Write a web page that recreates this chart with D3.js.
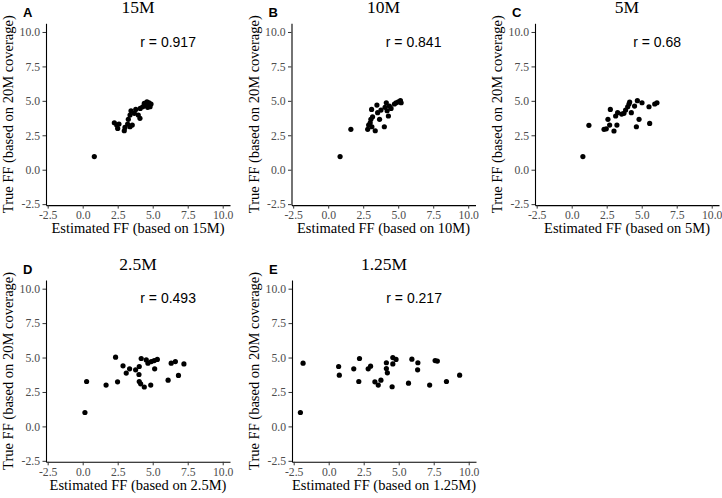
<!DOCTYPE html>
<html>
<head>
<meta charset="utf-8">
<script src="https://cdn.jsdelivr.net/npm/d3@7"></script>
<style>
  html, body { margin: 0; padding: 0; background: #fff; }
  svg { display: block; }
</style>
</head>
<body>
<svg id="chart" width="722" height="498"></svg>
<script>
// ---- Data ----
const panelLetters = ["A", "B", "C", "D", "E"];
const panelTitles = ["15M", "10M", "5M", "2.5M", "1.25M"];
const rValues = ["0.917", "0.841", "0.68", "0.493", "0.217"];
const tickValues = [-2.5, 0, 2.5, 5, 7.5, 10];
const tickLabels = ["-2.5", "0.0", "2.5", "5.0", "7.5", "10.0"];

const est15M = [0.83,2.26,2.43,2.50,2.59,2.97,3.02,3.21,3.38,3.54,3.26,3.38,3.45,3.69,3.79,3.97,4.09,4.11,4.29,4.40,4.50,4.59,4.74,4.88,4.64,4.81];
const true15M = [0.95,3.41,3.24,3.00,3.31,2.83,3.07,3.31,3.12,3.24,3.66,3.97,4.28,4.09,4.38,3.97,3.73,4.45,4.57,4.82,4.69,4.93,4.86,4.77,4.53,4.57];

const est10M = [0.85,1.62,2.82,2.89,3.00,3.12,3.05,3.17,3.10,3.36,3.48,3.53,3.67,3.77,4.01,4.06,4.15,4.21,4.30,4.37,4.49,4.73,4.85,5.01,5.16,5.21];
const true10M = [0.95,2.93,2.93,3.24,3.41,3.12,3.66,3.84,4.38,2.83,4.69,4.14,3.66,4.33,3.12,4.53,4.86,4.28,3.90,4.62,4.45,4.77,4.86,4.93,5.01,4.86];

const est5M = [0.80,1.23,2.31,2.47,2.59,2.71,2.76,3.02,3.14,3.23,3.28,3.57,3.73,3.85,4.00,4.09,4.14,4.26,4.49,4.62,4.69,4.81,5.02,5.52,5.57,5.93,6.09];
const true5M = [0.95,3.22,2.93,2.97,3.66,3.24,4.38,2.81,3.90,3.24,4.14,4.04,4.09,4.33,4.57,4.77,4.91,4.14,4.62,3.12,5.01,3.66,4.86,4.57,3.36,4.77,4.86];

const est2_5M = [0.16,0.28,1.67,2.35,2.49,2.88,3.11,3.35,3.78,4.04,4.02,4.04,4.14,4.18,4.40,4.54,4.66,4.86,4.90,5.14,5.11,5.33,6.10,6.32,6.62,6.84,7.23];
const true2_5M = [1.01,3.26,3.00,5.03,3.24,4.40,3.87,4.18,4.11,4.35,3.77,3.26,3.09,4.93,2.86,4.83,4.59,3.00,4.71,4.18,4.78,4.86,3.36,4.59,4.71,3.70,4.54];

const est1_25M = [-2.02,-1.83,0.71,0.76,2.20,1.79,2.15,2.82,2.99,3.30,3.54,3.73,4.12,4.12,4.19,4.58,4.58,4.81,4.53,5.70,5.94,6.37,6.35,7.21,7.60,7.76,8.41,9.35];
const true1_25M = [1.01,4.59,4.35,3.72,4.93,4.18,3.26,4.18,4.37,3.24,3.00,3.36,4.62,4.20,3.89,5.00,4.54,4.86,2.88,3.14,4.88,4.62,4.11,3.00,4.78,4.74,3.26,3.72];

const estSeries = [est15M, est10M, est5M, est2_5M, est1_25M];
const trueSeries = [true15M, true10M, true5M, true2_5M, true1_25M];

// ---- Layout ----
const serif = "'Liberation Serif', 'Times New Roman', serif";
const sans = "'Liberation Sans', Arial, sans-serif";
const plotLefts = [46, 291.5, 535, 46, 292];
const plotTops = [23.3, 23.3, 23.3, 280, 280];
const plotW = 184, plotH = 181.8;
const xDomain = [-2.62, 10.52];
const yDomain = [-2.57, 10.63];

const svg = d3.select("#chart");

panelLetters.forEach((letter, i) => {
  const L = plotLefts[i], T = plotTops[i];
  const x = d3.scaleLinear().domain(xDomain).range([L, L + plotW]);
  const y = d3.scaleLinear().domain(yDomain).range([T + plotH, T]);
  const g = svg.append("g");

  // x axis
  const xAxis = d3.axisBottom(x).tickValues(tickValues)
    .tickFormat((d, k) => tickLabels[k]).tickSize(3.5).tickPadding(2.5).tickSizeOuter(0);
  const gx = g.append("g").attr("transform", `translate(0,${T + plotH})`).call(xAxis);
  gx.select(".domain").attr("stroke", "#000").attr("stroke-width", 1.1);
  gx.selectAll(".tick line").attr("stroke", "#333").attr("stroke-width", 1);
  gx.selectAll(".tick text").attr("fill", "#4d4d4d").style("font-family", serif).style("font-size", "11.7px");

  // y axis
  const yAxis = d3.axisLeft(y).tickValues(tickValues)
    .tickFormat((d, k) => tickLabels[k]).tickSize(3.5).tickPadding(2.5).tickSizeOuter(0);
  const gy = g.append("g").attr("transform", `translate(${L},0)`).call(yAxis);
  gy.select(".domain").attr("stroke", "#000").attr("stroke-width", 1.1);
  gy.selectAll(".tick line").attr("stroke", "#333").attr("stroke-width", 1);
  gy.selectAll(".tick text").attr("fill", "#4d4d4d").style("font-family", serif).style("font-size", "11.7px");

  // points
  const pts = estSeries[i].map((v, k) => ({ ex: v, tr: trueSeries[i][k] }));
  g.append("g").selectAll("circle").data(pts).join("circle")
    .attr("cx", d => x(d.ex)).attr("cy", d => y(d.tr)).attr("r", 2.6).attr("fill", "#000");

  // r annotation
  g.append("text").attr("x", x(6.1)).attr("y", y(9.2))
    .attr("text-anchor", "middle").attr("dominant-baseline", "middle")
    .style("font-family", sans).style("font-size", "14px").attr("fill", "#000")
    .text("r = " + rValues[i]);

  // panel title
  g.append("text").attr("x", L + plotW / 2).attr("y", T - 10)
    .attr("text-anchor", "middle")
    .style("font-family", serif).style("font-size", "17.5px").attr("fill", "#000")
    .text(panelTitles[i]);

  // panel letter
  g.append("text").attr("x", L - 23).attr("y", T - 6)
    .style("font-family", sans).style("font-weight", "bold").style("font-size", "13px").attr("fill", "#000")
    .text(letter);

  // x axis title
  g.append("text").attr("x", L + plotW / 2).attr("y", T + plotH + 28)
    .attr("text-anchor", "middle")
    .style("font-family", serif).style("font-size", "14.5px").attr("fill", "#000")
    .text("Estimated FF (based on " + panelTitles[i] + ")");

  // y axis title
  g.append("text")
    .attr("transform", `translate(${L - 33},${T + plotH / 2}) rotate(-90)`)
    .attr("text-anchor", "middle")
    .style("font-family", serif).style("font-size", "14.5px").attr("fill", "#000")
    .text("True FF (based on 20M coverage)");
});
</script>
</body>
</html>
